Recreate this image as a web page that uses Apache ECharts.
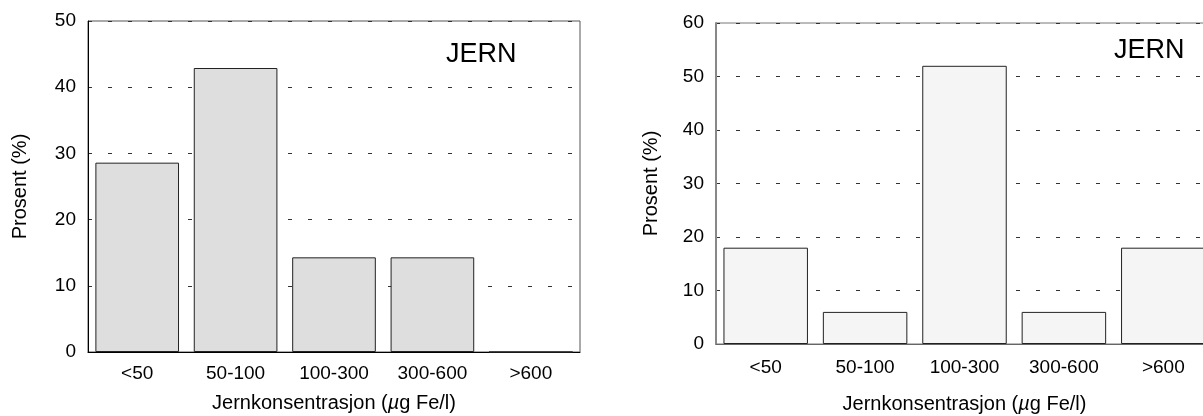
<!DOCTYPE html>
<html>
<head>
<meta charset="utf-8">
<script src="https://cdn.jsdelivr.net/npm/echarts@6/dist/echarts.min.js"></script>
<style>
  html, body { margin: 0; padding: 0; background: #fff; }
  #main { width: 1203px; height: 416px; }
</style>
</head>
<body>
<div id="main"></div>
<script>
// kategorier (µg Fe/l) og prosentandeler for de to figurene
const categories = ['<50', '50-100', '100-300', '300-600', '>600']
const leftValues = [28.6, 42.9, 14.3, 14.3, 0]
const rightValues = [18, 6, 52, 6, 18]
const leftTicks = [0, 10, 20, 30, 40, 50]
const rightTicks = [0, 10, 20, 30, 40, 50, 60]
const title = 'JERN'
const xName = 'Jernkonsentrasjon ({mu|µ}g Fe/l)'
const yName = 'Prosent (%)'

const font = 'Liberation Sans'
const myChart = echarts.init(document.getElementById('main'))

function xAxis(gridIndex, margin, gap, lineColor) {
  return {
    type: 'category',
    gridIndex: gridIndex,
    data: categories,
    axisTick: { show: false },
    axisLine: { lineStyle: { color: lineColor, width: 1 } },
    axisLabel: { color: '#000', fontFamily: font, fontSize: 19, margin: margin },
    name: xName,
    nameLocation: 'middle',
    nameGap: gap,
    nameTextStyle: {
      color: '#000', fontFamily: font, fontSize: 20,
      rich: { mu: { fontFamily: font, fontSize: 20, fontStyle: 'italic', color: '#000' } }
    }
  }
}

function yAxis(gridIndex, ticks, gap, lineColor, lineWidth) {
  return {
    type: 'value',
    gridIndex: gridIndex,
    min: ticks[0],
    max: ticks[ticks.length - 1],
    interval: ticks[1] - ticks[0],
    axisLine: { show: true, lineStyle: { color: lineColor, width: lineWidth } },
    axisTick: { show: false },
    axisLabel: { color: '#000', fontFamily: font, fontSize: 19, margin: 12 },
    splitLine: { lineStyle: { color: '#333', type: [4, 16], width: 1 } },
    name: yName,
    nameLocation: 'middle',
    nameRotate: 90,
    nameGap: gap,
    nameTextStyle: { color: '#000', fontFamily: font, fontSize: 20 }
  }
}

myChart.setOption({
  animation: false,
  backgroundColor: '#fff',
  title: [
    { text: title, left: 446, top: 41, padding: 0,
      textStyle: { fontFamily: font, fontSize: 27, fontWeight: 'normal', color: '#000' } },
    { text: title, left: 1114, top: 37, padding: 0,
      textStyle: { fontFamily: font, fontSize: 27, fontWeight: 'normal', color: '#000' } }
  ],
  grid: [
    { left: 88, top: 21, width: 492, height: 331, show: true, borderColor: '#555', borderWidth: 1,
      outerBoundsMode: 'none' },
    // høyre figur er kuttet i høyre kant
    { left: 716, top: 23, right: -10, height: 321, show: true, borderColor: '#777', borderWidth: 1,
      outerBoundsMode: 'none' }
  ],
  xAxis: [xAxis(0, 12, 41, '#000'), xAxis(1, 14, 50, '#666')],
  yAxis: [yAxis(0, leftTicks, 58, '#000', 1), yAxis(1, rightTicks, 55, '#888', 2)],
  series: [
    {
      type: 'bar', xAxisIndex: 0, yAxisIndex: 0, data: leftValues,
      barCategoryGap: '15%',
      itemStyle: { color: '#dedede', borderColor: '#222', borderWidth: 1 }
    },
    {
      type: 'bar', xAxisIndex: 1, yAxisIndex: 1, data: rightValues,
      barCategoryGap: '15%',
      itemStyle: { color: '#f5f5f5', borderColor: '#222', borderWidth: 1 }
    }
  ]
})
</script>
</body>
</html>
